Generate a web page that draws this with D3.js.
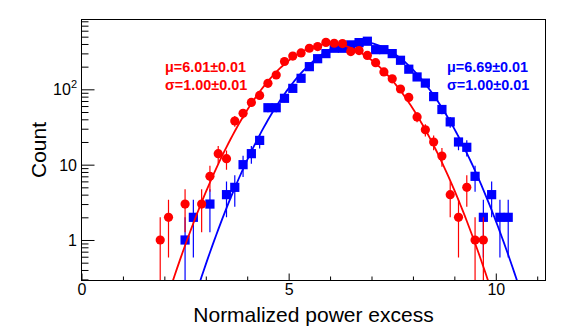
<!DOCTYPE html>
<html>
<head>
<meta charset="utf-8">
<script src="https://d3js.org/d3.v7.min.js"></script>
<style>
  body { margin: 0; background: #fff; }
  text { font-family: "Liberation Sans", Arial, Helvetica, sans-serif; }
</style>
</head>
<body>
<script>
// bin centres and counts (empty bins left out)
const redX = [1.9, 2.1, 2.5, 2.9, 3.1, 3.3, 3.5, 3.7, 3.9, 4.1, 4.3, 4.5, 4.7, 4.9, 5.1, 5.3, 5.5, 5.7, 5.9,
  6.1, 6.3, 6.5, 6.7, 6.9, 7.1, 7.3, 7.5, 7.7, 7.9, 8.1, 8.3, 8.5, 8.7, 8.9, 9.1, 9.3, 9.5, 9.7];
const redCount = [1, 2, 3, 3, 7, 14, 12, 38, 48, 67, 83, 120, 155, 234, 276, 304, 351, 369, 420,
  409, 405, 317, 327, 282, 226, 170, 138, 101, 78, 43, 29, 20, 13, 4, 2, 5, 1, 1];

const blueX = [2.5, 2.7, 3.1, 3.5, 3.7, 3.9, 4.1, 4.3, 4.5, 4.7, 4.9, 5.1, 5.3, 5.5, 5.7, 5.9, 6.1, 6.3, 6.5,
  6.7, 6.9, 7.1, 7.3, 7.5, 7.7, 7.9, 8.1, 8.3, 8.5, 8.7, 8.9, 9.1, 9.3, 9.5, 9.7, 9.9, 10.1, 10.3];
const blueCount = [1, 2, 3, 4, 5, 10, 14, 21, 57, 57, 76, 103, 140, 200, 255, 298, 351, 351, 389,
  417, 435, 336, 336, 298, 243, 185, 146, 121, 80, 54, 37, 20, 17, 7, 2, 4, 2, 2];

// gaussian fit parameters
const redFit = { amp: 400, mu: 6.01, sigma: 1.00 };
const blueFit = { amp: 430, mu: 6.69, sigma: 1.00 };
const redLabels = ['\u03bc=6.01\u00b10.01', '\u03c3=1.00\u00b10.01'];
const blueLabels = ['\u03bc=6.69\u00b10.01', '\u03c3=1.00\u00b10.01'];

// axis ticks
const xMajor = [0, 5, 10];
const xMinor = [1, 2, 3, 4, 6, 7, 8, 9, 11];
const yMajor = [1, 10, 100];
const yMinor = [0.3, 0.4, 0.5, 0.6, 0.7, 0.8, 0.9, 2, 3, 4, 5, 6, 7, 8, 9,
  20, 30, 40, 50, 60, 70, 80, 90, 200, 300, 400, 500, 600, 700, 800];

(function() {
  let svgContainer = '';

  const frame = { left: 81.5, right: 545.5, top: 19.5, bottom: 280.5 };

  window.onload = function() {
    svgContainer = d3.select('body')
      .append('svg')
      .attr('width', 581)
      .attr('height', 333);

    svgContainer.append('rect')
      .attr('width', 581)
      .attr('height', 333)
      .attr('fill', '#fff');

    let xScale = d3.scaleLinear()
      .domain([0, 11.2])
      .range([frame.left, frame.right]);

    let yScale = d3.scaleLog()
      .domain([0.29, 845])
      .range([frame.bottom, frame.top]);

    svgContainer.append('clipPath')
      .attr('id', 'frameClip')
      .append('rect')
        .attr('x', frame.left)
        .attr('y', frame.top)
        .attr('width', frame.right - frame.left)
        .attr('height', frame.bottom - frame.top);

    drawAxes(xScale, yScale);

    drawHist(xScale, yScale, blueX, blueCount, '#0000ff', 'square');
    drawFit(xScale, yScale, blueFit, '#0000ff');
    drawHist(xScale, yScale, redX, redCount, '#ff0000', 'circle');
    drawFit(xScale, yScale, redFit, '#ff0000');

    drawLabels(redLabels, 165, '#ff0000');
    drawLabels(blueLabels, 447, '#0000ff');

    // frame drawn last so it sits on top
    svgContainer.append('rect')
      .attr('x', frame.left)
      .attr('y', frame.top)
      .attr('width', frame.right - frame.left)
      .attr('height', frame.bottom - frame.top)
      .attr('fill', 'none')
      .attr('stroke', '#000')
      .attr('stroke-width', 1);
  };

  // ticks, tick labels and axis titles
  function drawAxes(x, y) {
    let xMajAxis = d3.axisBottom(x)
      .tickValues(xMajor)
      .tickSize(-7)
      .tickPadding(3)
      .tickFormat(d3.format('d'));

    let gx = svgContainer.append('g')
      .attr('transform', 'translate(0,' + frame.bottom + ')')
      .call(xMajAxis);
    gx.selectAll('text')
      .style('font-size', '16px')
      .attr('fill', '#000');

    let gxm = svgContainer.append('g')
      .attr('transform', 'translate(0,' + frame.bottom + ')')
      .call(d3.axisBottom(x).tickValues(xMinor).tickSize(-4).tickFormat(''));

    let gy = svgContainer.append('g')
      .attr('transform', 'translate(' + frame.left + ',0)')
      .call(d3.axisLeft(y).tickValues(yMajor).tickSize(-13).tickFormat(''));

    let gym = svgContainer.append('g')
      .attr('transform', 'translate(' + frame.left + ',0)')
      .call(d3.axisLeft(y).tickValues(yMinor).tickSize(-7).tickFormat(''));

    [gx, gxm, gy, gym].forEach(function(g) {
      g.select('.domain').remove();
      g.selectAll('line').attr('stroke', '#000');
    });

    // y tick labels, 10^2 gets a superscript
    yMajor.forEach(function(v) {
      let t = svgContainer.append('text')
        .attr('x', 77)
        .attr('y', y(v) + 6)
        .attr('text-anchor', 'end')
        .style('font-size', '16px');
      if (v < 100) {
        t.text(v);
      } else {
        t.append('tspan').text('10');
        t.append('tspan')
          .attr('dy', -7)
          .style('font-size', '11px')
          .text(Math.round(Math.log10(v)));
      }
    });

    // axis titles
    svgContainer.append('text')
      .attr('x', (frame.left + frame.right) / 2)
      .attr('y', 321.5)
      .attr('text-anchor', 'middle')
      .style('font-size', '21px')
      .text('Normalized power excess');

    svgContainer.append('text')
      .attr('transform', 'translate(46,' + ((frame.top + frame.bottom) / 2) + ')rotate(-90)')
      .attr('text-anchor', 'middle')
      .style('font-size', '21px')
      .text('Count');
  }

  // markers with sqrt(N) error bars
  function drawHist(x, y, xs, counts, color, shape) {
    let g = svgContainer.append('g')
      .attr('clip-path', 'url(#frameClip)');

    let pts = xs.map((d, i) => ({ x: d, n: counts[i] }));

    g.selectAll('.err')
      .data(pts)
      .enter()
      .append('line')
        .attr('x1', d => x(d.x))
        .attr('x2', d => x(d.x))
        .attr('y1', d => (d.n - Math.sqrt(d.n) > 0 ? y(d.n - Math.sqrt(d.n)) : frame.bottom + 2))
        .attr('y2', d => y(d.n + Math.sqrt(d.n)))
        .attr('stroke', color)
        .attr('stroke-width', 1.2);

    if (shape == 'circle') {
      g.selectAll('.mk')
        .data(pts)
        .enter()
        .append('circle')
          .attr('cx', d => x(d.x))
          .attr('cy', d => y(d.n))
          .attr('r', 4.6)
          .attr('fill', color);
    } else {
      g.selectAll('.mk')
        .data(pts)
        .enter()
        .append('rect')
          .attr('x', d => x(d.x) - 4.6)
          .attr('y', d => y(d.n) - 4.6)
          .attr('width', 9.2)
          .attr('height', 9.2)
          .attr('fill', color);
    }
  }

  // gaussian fit curve
  function drawFit(x, y, fit, color) {
    let samples = d3.range(0, 11.2001, 0.05);
    let line = d3.line()
      .x(d => x(d))
      .y(d => y(Math.max(1e-3, fit.amp * Math.exp(-0.5 * Math.pow((d - fit.mu) / fit.sigma, 2)))));

    svgContainer.append('path')
      .attr('clip-path', 'url(#frameClip)')
      .attr('d', line(samples))
      .attr('fill', 'none')
      .attr('stroke', color)
      .attr('stroke-width', 1.8);
  }

  // fit results
  function drawLabels(lines, xPos, color) {
    lines.forEach(function(s, i) {
      svgContainer.append('text')
        .attr('x', xPos)
        .attr('y', 71.5 + i * 18.5)
        .style('font-size', '14.4px')
        .style('font-weight', 'bold')
        .attr('fill', color)
        .text(s);
    });
  }

})();
</script>
</body>
</html>
